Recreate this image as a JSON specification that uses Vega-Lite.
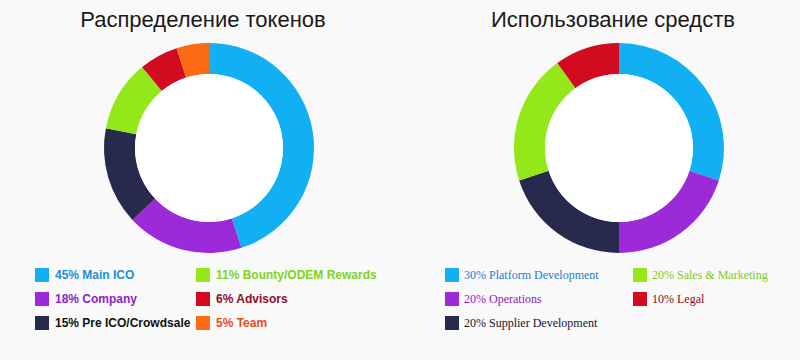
{
  "$schema": "https://vega.github.io/schema/vega-lite/v6.json",
  "background": "#f9f9f9",
  "padding": {"left": 4, "top": 9, "right": 0, "bottom": 31},
  "config": {"view": {"stroke": null}},
  "spacing": 24,
  "resolve": {"scale": {"color": "independent"}, "legend": {"color": "independent"}},
  "hconcat": [
    {
      "width": 410,
      "height": 214,
      "title": {"text": "Распределение токенов", "font": "Liberation Sans", "fontSize": 22, "fontWeight": "normal", "color": "#1a1a1a", "offset": 9, "dx": -6},
      "layer": [
        {
          "data": {"values": [
            {"label": "45% Main ICO", "pct": 45, "ord": 1},
            {"label": "18% Company", "pct": 18, "ord": 2},
            {"label": "15% Pre ICO/Crowdsale", "pct": 15, "ord": 3},
            {"label": "11% Bounty/ODEM Rewards", "pct": 11, "ord": 4},
            {"label": "6% Advisors", "pct": 6, "ord": 5},
            {"label": "5% Team", "pct": 5, "ord": 6}
          ]},
          "mark": {"type": "arc", "outerRadius": 105, "innerRadius": 74},
          "encoding": {
            "theta": {"field": "pct", "type": "quantitative", "stack": true},
            "order": {"field": "ord", "type": "quantitative"},
            "color": {
              "field": "label", "type": "nominal",
              "scale": {
                "domain": ["45% Main ICO", "18% Company", "15% Pre ICO/Crowdsale", "11% Bounty/ODEM Rewards", "6% Advisors", "5% Team"],
                "range": ["#10b0f2", "#9d2ad9", "#272a4c", "#94e81a", "#d30b20", "#fc6a14"]
              },
              "legend": {
                "title": null, "orient": "none", "legendX": 31, "legendY": 227,
                "columns": 2, "columnPadding": 5, "rowPadding": 10, "padding": 0,
                "symbolType": "square", "symbolSize": 196, "symbolStrokeWidth": 0, "symbolOpacity": 1,
                "labelOffset": 6, "labelFont": "Liberation Sans", "labelFontSize": 12, "labelFontWeight": "bold",
                "labelLimit": 300,
                "labelColor": {"expr": "datum.value === '45% Main ICO' ? '#1a90d9' : datum.value === '11% Bounty/ODEM Rewards' ? '#80d41c' : datum.value === '18% Company' ? '#8c1fc4' : datum.value === '6% Advisors' ? '#8e0f1e' : datum.value === '5% Team' ? '#ec4a1a' : '#111111'"}
              }
            }
          }
        },
        {
          "data": {"values": [{"full": 1}]},
          "mark": {"type": "circle", "size": 21904, "color": "#ffffff", "opacity": 1},
          "encoding": {}
        }
      ]
    },
    {
      "width": 362,
      "height": 214,
      "title": {"text": "Использование средств", "font": "Liberation Sans", "fontSize": 22, "fontWeight": "normal", "color": "#1a1a1a", "offset": 9, "dx": -6},
      "layer": [
        {
          "data": {"values": [
            {"label": "30% Platform Development", "pct": 30, "ord": 1},
            {"label": "20% Operations", "pct": 20, "ord": 2},
            {"label": "20% Supplier Development", "pct": 20, "ord": 3},
            {"label": "20% Sales & Marketing", "pct": 20, "ord": 4},
            {"label": "10% Legal", "pct": 10, "ord": 5}
          ]},
          "mark": {"type": "arc", "outerRadius": 105, "innerRadius": 74},
          "encoding": {
            "theta": {"field": "pct", "type": "quantitative", "stack": true},
            "order": {"field": "ord", "type": "quantitative"},
            "color": {
              "field": "label", "type": "nominal",
              "scale": {
                "domain": ["30% Platform Development", "20% Operations", "20% Supplier Development", "20% Sales & Marketing", "10% Legal"],
                "range": ["#10b0f2", "#9d2ad9", "#272a4c", "#94e81a", "#d30b20"]
              },
              "legend": {
                "title": null, "orient": "none", "legendX": 7, "legendY": 227,
                "columns": 2, "columnPadding": 34, "rowPadding": 10, "padding": 0,
                "symbolType": "square", "symbolSize": 196, "symbolStrokeWidth": 0, "symbolOpacity": 1,
                "labelOffset": 5, "labelFont": "Liberation Serif", "labelFontSize": 12, "labelFontWeight": "normal",
                "labelLimit": 300,
                "labelColor": {"expr": "datum.value === '30% Platform Development' ? '#1a80d0' : datum.value === '20% Sales & Marketing' ? '#7ccd22' : datum.value === '20% Operations' ? '#8a22c8' : datum.value === '10% Legal' ? '#8b0c1c' : '#151530'"}
              }
            }
          }
        },
        {
          "data": {"values": [{"full": 1}]},
          "mark": {"type": "circle", "size": 21904, "color": "#ffffff", "opacity": 1},
          "encoding": {}
        }
      ]
    }
  ]
}
